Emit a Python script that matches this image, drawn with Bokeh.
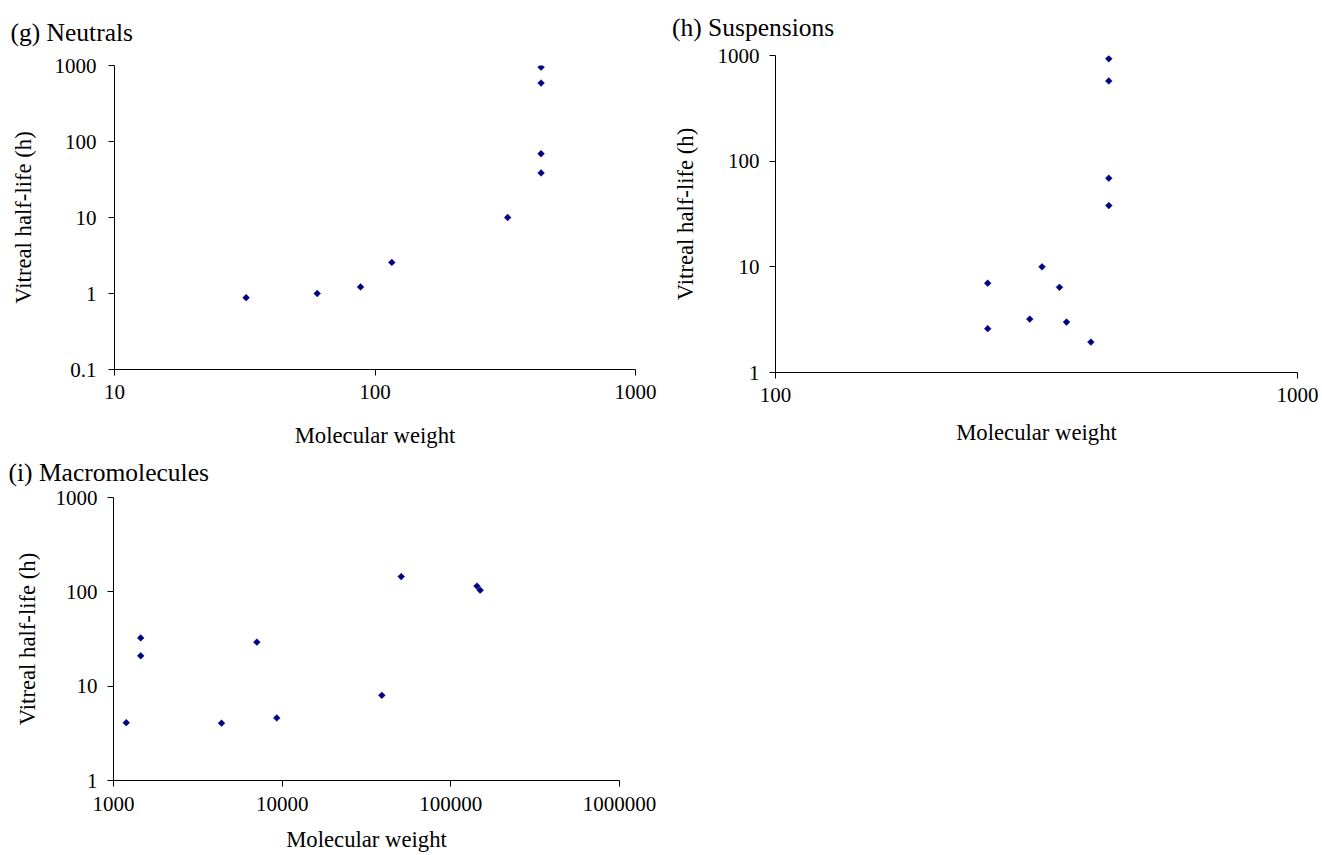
import math
from bokeh.plotting import figure
from bokeh.layouts import column, row
from bokeh.models import FixedTicker, Range1d, BasicTickFormatter
from bokeh.embed import file_html
from bokeh.resources import INLINE

# ---------------- data ----------------
g_mw = [32, 60, 88, 116, 323, 434, 434, 434, 434]
g_half_life = [0.88, 1.0, 1.22, 2.56, 10, 951, 588, 69, 38.6]

h_mw = [435, 435, 435, 435, 324, 255, 350, 307, 361, 255, 402]
h_half_life = [931, 574, 69, 38, 10, 7.0, 6.4, 3.2, 3.0, 2.6, 1.94]

i_mw = [1190, 1450, 1450, 4370, 7080, 9290, 39000, 50800, 142800, 149200]
i_half_life = [4.1, 32.5, 21.0, 4.05, 29.3, 4.6, 8.0, 145, 115, 104]

g_xticks = [10, 100, 1000]
g_xlabels = ["10", "100", "1000"]
g_yticks = [0.1, 1, 10, 100, 1000]
g_ylabels = ["0.1", "1", "10", "100", "1000"]

h_xticks = [100, 1000]
h_xlabels = ["100", "1000"]
h_yticks = [1, 10, 100, 1000]
h_ylabels = ["1", "10", "100", "1000"]

i_xticks = [1000, 10000, 100000, 1000000]
i_xlabels = ["1000", "10000", "100000", "1000000"]
i_yticks = [1, 10, 100, 1000]
i_ylabels = ["1", "10", "100", "1000"]

titles = ["(g) Neutrals", "(h) Suspensions", "(i) Macromolecules"]
x_title = "Molecular weight"
y_title = "Vitreal half-life (h)"

FONT = "Liberation Serif"
NAVY = "#000080"


def panel(title, xs, ys, xt, xl, yt, yl, width, height, bl, br, bt, bb,
          t_off, t_stand, xl_stand, xa_stand, yl_stand, ya_stand):
    p = figure(width=width, height=height, x_axis_type="log", y_axis_type="log",
               x_range=Range1d(xt[0], xt[-1]), y_range=Range1d(yt[0], yt[-1]),
               output_backend="svg", toolbar_location=None, frame_align=False,
               min_border_left=bl, min_border_right=br,
               min_border_top=bt, min_border_bottom=bb)
    p.title.text = title
    p.title.text_font = FONT
    p.title.text_font_size = "25.5px"
    p.title.text_font_style = "normal"
    p.title.text_color = "black"
    p.title.align = "left"
    p.title.vertical_align = "top"
    p.title.offset = t_off
    p.title.standoff = t_stand
    p.outline_line_color = None
    p.xgrid.visible = False
    p.ygrid.visible = False
    p.background_fill_color = "white"
    p.border_fill_color = "white"

    p.xaxis.ticker = FixedTicker(ticks=xt, minor_ticks=[])
    p.yaxis.ticker = FixedTicker(ticks=yt, minor_ticks=[])
    p.xaxis.formatter = BasicTickFormatter(use_scientific=False)
    p.yaxis.formatter = BasicTickFormatter(use_scientific=False)
    p.xaxis.major_label_overrides = {float(t): s for t, s in zip(xt, xl)}
    p.yaxis.major_label_overrides = {float(t): s for t, s in zip(yt, yl)}
    p.xaxis.axis_label = x_title
    p.yaxis.axis_label = y_title

    for ax in (p.xaxis, p.yaxis):
        ax.axis_line_color = "black"
        ax.axis_line_width = 1
        ax.major_tick_line_color = "black"
        ax.major_tick_out = 6
        ax.major_tick_in = 0
        ax.minor_tick_out = 0
        ax.minor_tick_in = 0
        ax.major_label_text_font = FONT
        ax.major_label_text_font_size = "21px"
        ax.major_label_text_color = "black"
        ax.axis_label_text_font = FONT
        ax.axis_label_text_font_size = "22.7px"
        ax.axis_label_text_font_style = "normal"
        ax.axis_label_text_color = "black"
    p.xaxis.major_label_standoff = xl_stand
    p.xaxis.axis_label_standoff = xa_stand
    p.yaxis.major_label_standoff = yl_stand
    p.yaxis.axis_label_standoff = ya_stand

    p.scatter(xs, ys, marker="square", angle=math.pi / 4, size=4.8, fill_color=NAVY,
              line_color=NAVY, line_width=0.5)
    return p


pg = panel(titles[0], g_mw, g_half_life, g_xticks, g_xlabels, g_yticks, g_ylabels,
           668, 450, 114, 33, 65, 79, -104, 31.8, 9, 21, 12, 16)
ph = panel(titles[1], h_mw, h_half_life, h_xticks, h_xlabels, h_yticks, h_ylabels,
           653, 450, 107, 24, 52, 78, -103.5, 24, 9, 15, 10, 17)
pi = panel(titles[2], i_mw, i_half_life, i_xticks, i_xlabels, i_yticks, i_ylabels,
           668, 404, 113, 49, 44, 71, -105, 15.8, 10, 13, 10, 13)

layout = column(row(pg, ph), pi)

open("out.html", "w").write(file_html(layout, INLINE))
